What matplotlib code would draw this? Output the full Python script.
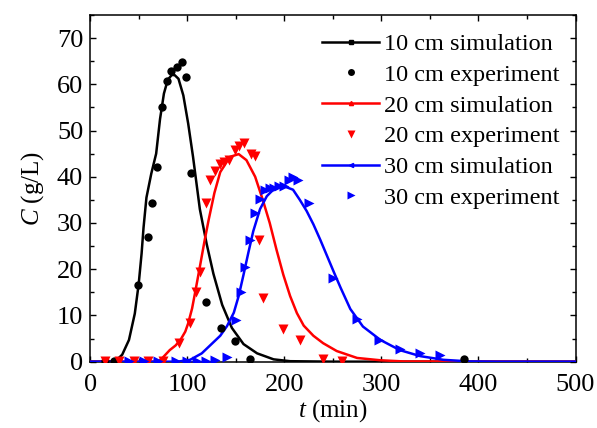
import matplotlib
matplotlib.use("Agg")
import matplotlib.pyplot as plt
from matplotlib.lines import Line2D
from matplotlib.ticker import MultipleLocator

plt.rcParams["font.family"] = ["Liberation Serif", "DejaVu Serif"]
plt.rcParams["mathtext.fontset"] = "custom"
plt.rcParams["mathtext.rm"] = "Liberation Serif"
plt.rcParams["mathtext.it"] = "Liberation Serif:italic"

# Simulated breakthrough curves (t in min, C in g/L)
t_sim_10 = [0, 20, 27, 33, 40, 46, 50, 53, 55, 58, 63, 68, 72, 76, 80, 84, 87, 91,
            96, 101, 106, 113, 120, 127, 136, 146, 158, 172, 189, 206, 250, 500]
c_sim_10 = [0, 0, 0.3, 1.5, 4.7, 10.4, 16.8, 23.4, 29.0, 35.5, 40.7, 45.0, 52.5,
            58.0, 61.0, 62.0, 62.0, 61.2, 57.6, 51.5, 44.3, 33.0, 25.5, 19.0, 12.3,
            7.3, 3.8, 1.8, 0.5, 0.1, 0, 0]

t_sim_20 = [0, 70, 74, 82, 88, 93, 98, 101, 105, 108, 113, 118, 122, 128, 134, 144,
            153, 161, 170, 178, 185, 192, 199, 206, 213, 220, 230, 240, 254, 275,
            299, 323, 500]
c_sim_20 = [0, 0, 0.7, 2.5, 3.5, 4.7, 6.5, 8.3, 11.5, 14.8, 20.5, 26.3, 30.6, 36.5,
            41.0, 44.3, 44.9, 43.6, 40.0, 34.9, 30.0, 24.2, 18.8, 14.2, 10.5, 7.8,
            5.6, 4.0, 2.3, 0.8, 0.3, 0.05, 0]

t_sim_30 = [0, 90, 103, 115, 124, 134, 141, 148, 153, 158, 163, 168, 175, 182, 190,
            199, 209, 216, 223, 230, 237, 244, 251, 258, 268, 281, 299, 319, 340,
            364, 391, 420, 500]
c_sim_30 = [0, 0, 0.4, 1.8, 3.6, 5.6, 7.7, 10.6, 14.2, 18.8, 23.6, 28.2, 33.0, 35.8,
            37.5, 38.0, 37.2, 35.0, 32.6, 29.7, 26.4, 22.9, 19.4, 16.0, 11.4, 7.6,
            4.7, 2.5, 1.2, 0.4, 0.05, 0, 0]

# Measured concentrations
t_exp_10 = [15, 25, 49.4, 59.7, 64.2, 69.3, 74.5, 79.3, 83.8, 89.2, 94.4, 99.2, 104,
            119.1, 134.6, 149, 164.5, 385]
c_exp_10 = [0.2, 0.2, 16.6, 26.9, 34.4, 42.2, 55.1, 60.8, 62.9, 63.7, 64.8, 61.6,
            40.8, 12.8, 7.2, 4.5, 0.5, 0.5]

t_exp_20 = [15, 30, 45, 60, 75, 91.7, 103.3, 109.2, 113.3, 119.8, 123.9, 129.1, 133.6,
            138, 142.8, 149, 153.8, 158.6, 165.5, 169.6, 174.4, 178.5, 198.4, 216.3,
            239.8, 259.9]
c_exp_20 = [0.2, 0.2, 0.2, 0.2, 0.2, 4.1, 8.4, 15.0, 19.4, 34.3, 39.4, 41.3, 42.7,
            43.1, 43.7, 45.7, 46.7, 47.4, 45.0, 44.5, 26.3, 13.8, 7.0, 4.7, 0.5, 0.2]

t_exp_30 = [40, 55, 70, 88, 99.5, 110, 119.5, 129, 140.7, 150.4, 155.2, 160, 164.8,
            169.6, 175.1, 180.6, 185.4, 189.8, 194.6, 199.8, 205, 209.4, 214.5,
            225.2, 250.6, 274.6, 298, 319.3, 339.9, 360.5]
c_exp_30 = [0.2, 0.2, 0.2, 0.2, 0.2, 0.2, 0.2, 0.3, 0.9, 9.0, 15.1, 20.5, 26.3, 32.2,
            35.1, 37.1, 37.5, 37.6, 37.9, 37.9, 39.4, 40.0, 39.2, 34.4, 18.0, 9.2,
            4.7, 2.7, 1.9, 1.4]

labels = ["10 cm simulation", "10 cm experiment", "20 cm simulation",
          "20 cm experiment", "30 cm simulation", "30 cm experiment"]

fig = plt.figure(figsize=(5.97, 4.28), dpi=100)
ax = fig.add_axes([0.151, 0.155, 0.813, 0.810])

lw = 1.8
ax.plot(t_sim_10, c_sim_10, color="black", lw=lw, zorder=3)
ax.plot(t_exp_10, c_exp_10, "o", color="black", ms=6, mec="none", zorder=4)
ax.plot(t_sim_20, c_sim_20, color="red", lw=lw, zorder=3)
ax.plot(t_exp_20, c_exp_20, "v", color="red", ms=7.5, mec="none", zorder=4)
ax.plot(t_sim_30, c_sim_30, color="blue", lw=lw, zorder=3)
ax.plot(t_exp_30, c_exp_30, ">", color="blue", ms=7.5, mec="none", zorder=4)

handles = [
    Line2D([], [], color="black", lw=lw, marker="s", ms=2.5),
    Line2D([], [], color="black", ls="none", marker="o", ms=5, mec="none"),
    Line2D([], [], color="red", lw=lw, marker="^", ms=3),
    Line2D([], [], color="red", ls="none", marker="v", ms=6, mec="none"),
    Line2D([], [], color="blue", lw=lw, marker="<", ms=3),
    Line2D([], [], color="blue", ls="none", marker=">", ms=6, mec="none"),
]
ax.legend(handles, labels, loc="upper right", frameon=False, fontsize=17.5,
          handlelength=2.35, handletextpad=0.2, labelspacing=0.36,
          borderaxespad=0, borderpad=0, bbox_to_anchor=(0.968, 0.948))

ax.set_xlim(0, 500)
ax.set_ylim(0, 75)
ax.xaxis.set_major_locator(MultipleLocator(100))
ax.xaxis.set_minor_locator(MultipleLocator(50))
ax.yaxis.set_major_locator(MultipleLocator(10))
ax.yaxis.set_minor_locator(MultipleLocator(5))
ax.tick_params(which="both", direction="in", top=True, right=True, width=1,
               labelsize=19)
ax.tick_params(which="major", length=4.5)
ax.tick_params(which="minor", length=3)
ax.tick_params(axis="x", pad=9)
ax.tick_params(axis="y", pad=5)
for s in ax.spines.values():
    s.set_linewidth(1.1)

ax.set_xlabel("$t$ (min)", fontsize=18, labelpad=1)
ax.set_ylabel("$C$ (g/L)", fontsize=18, labelpad=8)

fig.savefig("out.png", dpi=100)
